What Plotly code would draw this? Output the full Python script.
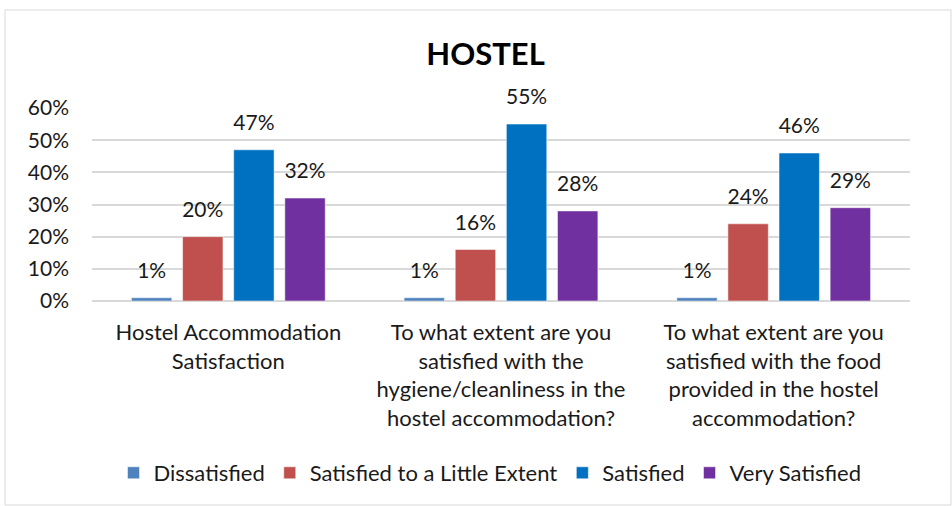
import plotly.graph_objects as go

# Survey categories (multi-line axis labels)
categories = [
    "Hostel Accommodation<br>Satisfaction",
    "To what extent are you<br>satisfied with the<br>hygiene/cleanliness in the<br>hostel accommodation?",
    "To what extent are you<br>satisfied with the food<br>provided in the hostel<br>accommodation?",
]

# Share of respondents per response level
dissatisfied = [0.01, 0.01, 0.01]
little_extent = [0.20, 0.16, 0.24]
satisfied = [0.47, 0.55, 0.46]
very_satisfied = [0.32, 0.28, 0.29]

series_names = ["Dissatisfied", "Satisfied to a Little Extent", "Satisfied", "Very Satisfied"]
series_values = [dissatisfied, little_extent, satisfied, very_satisfied]
series_colors = ["#4F81BD", "#C0504D", "#0070C0", "#7030A0"]

y_ticks = [0, 0.1, 0.2, 0.3, 0.4, 0.5, 0.6]
y_tick_labels = ["0%", "10%", "20%", "30%", "40%", "50%", "60%"]

FONT = "Lato, Calibri, sans-serif"
TEXT_COLOR = "#1a1a1a"

fig = go.Figure()
for i, (name, vals, color) in enumerate(zip(series_names, series_values, series_colors)):
    fig.add_trace(go.Bar(
        x=categories,
        y=vals,
        name=name,
        offsetgroup=str(i),
        marker=dict(color=color, line=dict(color="white", width=0.5)),
    ))

# Value labels above each bar, aligned with the bar groups
for i, vals in enumerate(series_values):
    fig.add_trace(go.Scatter(
        x=categories,
        y=vals,
        mode="markers+text",
        offsetgroup=str(i),
        marker=dict(size=22, opacity=0),
        text=[f"{v:.0%}" for v in vals],
        textposition="top center",
        textfont=dict(family=FONT, size=21, color=TEXT_COLOR),
        cliponaxis=False,
        showlegend=False,
        hoverinfo="skip",
    ))

W, H = 952, 506
L, R, T, B = 92, 42, 108, 205
pw, ph = W - L - R, H - T - B

def px_x(x):
    return (x - L) / pw

def px_y(y):
    return (H - B - y) / ph

fig.update_layout(
    width=W,
    height=H,
    margin=dict(l=L, r=R, t=T, b=B),
    paper_bgcolor="white",
    plot_bgcolor="white",
    barmode="group",
    bargap=0.25,
    bargroupgap=0.21,
    scattermode="group",
    scattergap=0.25,
    font=dict(family=FONT, size=21, color=TEXT_COLOR),
    title=dict(
        text="<b>HOSTEL</b>",
        x=0.51,
        xanchor="center",
        y=1 - 54 / H,
        yanchor="middle",
        font=dict(family=FONT, size=31, color="black"),
    ),
    showlegend=True,
    legend=dict(
        orientation="h",
        x=px_x(490),
        xanchor="center",
        y=px_y(473),
        yanchor="middle",
        font=dict(family=FONT, size=22, color=TEXT_COLOR),
        itemwidth=30,
        traceorder="normal",
    ),
    xaxis=dict(
        showgrid=False,
        showline=False,
        ticks="",
        tickfont=dict(family=FONT, size=22, color=TEXT_COLOR),
        ticklabelstandoff=16,
    ),
    yaxis=dict(
        range=[0, 0.6],
        tickvals=y_ticks,
        ticktext=y_tick_labels,
        showgrid=True,
        gridcolor="#D9D9D9",
        gridwidth=1.5,
        zeroline=True,
        zerolinecolor="#D9D9D9",
        zerolinewidth=1.5,
        showline=False,
        ticks="",
        tickfont=dict(family=FONT, size=21, color=TEXT_COLOR),
        ticklabelstandoff=22,
    ),
    shapes=[
        dict(
            type="rect",
            xref="paper",
            yref="paper",
            x0=px_x(5),
            x1=px_x(951),
            y0=px_y(505),
            y1=px_y(10),
            line=dict(color="#D9D9D9", width=1),
            fillcolor="rgba(0,0,0,0)",
            layer="below",
        )
    ],
)

fig.write_html("out.html")
